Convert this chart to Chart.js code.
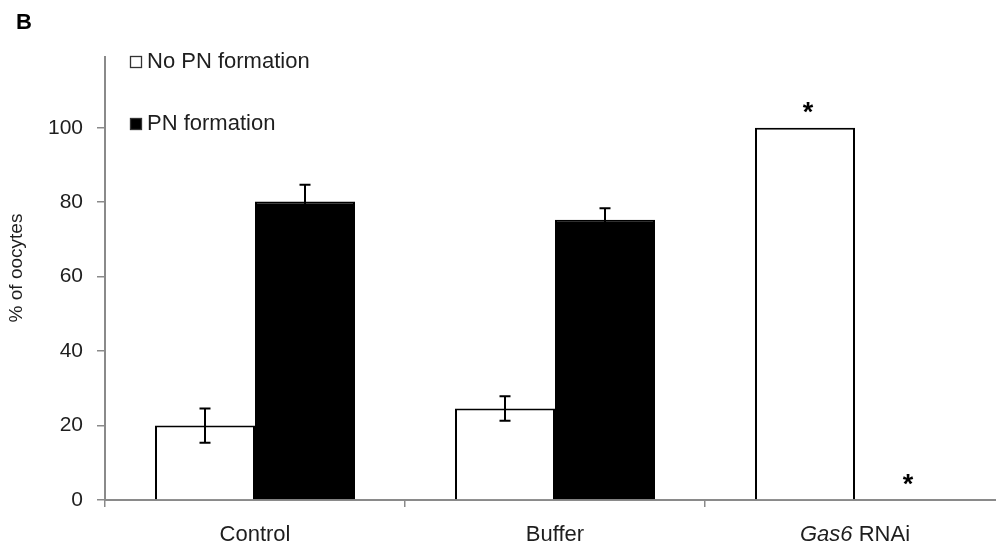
<!DOCTYPE html>
<html>
<head>
<meta charset="utf-8">
<script src="https://cdn.jsdelivr.net/npm/chart.js@4/dist/chart.umd.min.js"></script>
<style>
  html, body { margin: 0; padding: 0; background: #fff; overflow: hidden; }
  #wrap { position: absolute; left: 0; top: 0; width: 1010px; height: 544px; }
</style>
</head>
<body>
<div id="wrap"><canvas id="chart" width="1010" height="544"></canvas></div>
<script>
// Treatment groups along the x axis; words listed in italicWords are gene names set in italics
const categories = ['Control', 'Buffer', 'Gas6 RNAi'];
const italicWords = ['Gas6'];

// Percentage of oocytes per outcome, with standard errors
const seriesNames = ['No PN formation', 'PN formation'];
const noPN = [20.0, 24.6, 100.0];
const noPNErr = [4.6, 3.3, 0];
const withPN = [80.2, 75.3, 0];
const withPNErr = [4.5, 3.1, 0];

// Significance markers (*) per series and group
const noPNSig = [false, false, true];
const withPNSig = [false, false, true];

// Y axis range, step and title
const yMin = 0;
const yMax = 119;
const yStep = 20;
const yTitle = '% of oocytes';

const AXIS_GREY = '#8a8a8a';
const TEXT = '#1e1e1e';
const FONT = '"Liberation Sans", Arial, sans-serif';

const errorBars = [noPNErr, withPNErr];
const sigMarks = [noPNSig, withPNSig];

const decorations = {
  id: 'decorations',
  afterDatasetsDraw(chart) {
    const ctx = chart.ctx;
    const y = chart.scales.y;
    const area = chart.chartArea;
    ctx.save();

    // error bars
    ctx.strokeStyle = '#000';
    ctx.lineWidth = 2;
    chart.data.datasets.forEach((ds, i) => {
      const meta = chart.getDatasetMeta(i);
      ds.data.forEach((v, j) => {
        const e = errorBars[i][j];
        if (!e) return;
        const x = meta.data[j].x;
        const top = y.getPixelForValue(v + e);
        const bot = y.getPixelForValue(v - e);
        ctx.beginPath();
        ctx.moveTo(x, top); ctx.lineTo(x, bot);
        ctx.moveTo(x - 5.5, top); ctx.lineTo(x + 5.5, top);
        ctx.moveTo(x - 5.5, bot); ctx.lineTo(x + 5.5, bot);
        ctx.stroke();
      });
    });

    // significance asterisks
    ctx.fillStyle = '#000';
    ctx.font = 'bold 27px ' + FONT;
    ctx.textAlign = 'center';
    ctx.textBaseline = 'middle';
    chart.data.datasets.forEach((ds, i) => {
      const meta = chart.getDatasetMeta(i);
      ds.data.forEach((v, j) => {
        if (!sigMarks[i][j]) return;
        const x = meta.data[j].x + 3;
        ctx.fillText('*', x, y.getPixelForValue(v) - 14);
      });
    });

    // y axis title
    ctx.save();
    ctx.translate(17, 268);
    ctx.rotate(-Math.PI / 2);
    ctx.font = '19px ' + FONT;
    ctx.fillStyle = TEXT;
    ctx.textAlign = 'center';
    ctx.textBaseline = 'middle';
    ctx.fillText(yTitle, 0, 0);
    ctx.restore();

    // legend inside the plot, top left
    ctx.textAlign = 'left';
    ctx.textBaseline = 'alphabetic';
    ctx.font = '22px ' + FONT;
    const baselines = [68, 130];
    chart.data.datasets.forEach((ds, i) => {
      const bx = area.left + 25.5;
      const by = baselines[i] - 11.5;
      ctx.fillStyle = ds.backgroundColor;
      ctx.fillRect(bx, by, 11, 11);
      ctx.strokeStyle = '#333';
      ctx.lineWidth = 1.3;
      ctx.strokeRect(bx, by, 11, 11);
      ctx.fillStyle = TEXT;
      ctx.fillText(ds.label, area.left + 42, baselines[i]);
    });

    // category labels, gene names in italics
    const xs = chart.scales.x;
    ctx.fillStyle = TEXT;
    categories.forEach((label, j) => {
      const words = label.split(' ');
      const parts = words.map((w, k) => ({
        text: (k > 0 ? ' ' : '') + w,
        font: (italicWords.includes(w) ? 'italic ' : '') + '22px ' + FONT
      }));
      let total = 0;
      parts.forEach(p => { ctx.font = p.font; p.w = ctx.measureText(p.text).width; total += p.w; });
      let x = xs.getPixelForValue(j) - total / 2;
      parts.forEach(p => { ctx.font = p.font; ctx.fillText(p.text, x, 541); x += p.w; });
    });

    // panel letter
    ctx.font = 'bold 22px ' + FONT;
    ctx.fillStyle = '#000';
    ctx.fillText('B', 16, 29);

    ctx.restore();
  }
};

new Chart(document.getElementById('chart'), {
  type: 'bar',
  data: {
    labels: categories,
    datasets: [
      {
        label: seriesNames[0],
        data: noPN,
        backgroundColor: '#ffffff',
        borderColor: '#000000',
        borderWidth: 2
      },
      {
        label: seriesNames[1],
        data: withPN,
        backgroundColor: '#000000',
        borderColor: '#000000',
        borderWidth: 2
      }
    ]
  },
  options: {
    responsive: false,
    animation: false,
    devicePixelRatio: 1,
    categoryPercentage: 2 / 3,
    barPercentage: 1,
    layout: { padding: { top: 57, right: 5, left: 0, bottom: 0 } },
    plugins: {
      legend: { display: false },
      tooltip: { enabled: false }
    },
    scales: {
      x: {
        type: 'category',
        offset: true,
        grid: {
          display: true,
          offset: true,
          drawOnChartArea: false,
          drawTicks: true,
          tickLength: 7,
          color: AXIS_GREY,
          lineWidth: 1.5
        },
        border: { display: true, color: AXIS_GREY, width: 2 },
        ticks: { display: false },
        afterFit(scale) { scale.height = 44; }
      },
      y: {
        min: yMin,
        max: yMax,
        grid: {
          display: true,
          drawOnChartArea: false,
          drawTicks: true,
          tickLength: 8,
          color: AXIS_GREY,
          lineWidth: 1.5
        },
        border: { display: true, color: AXIS_GREY, width: 2 },
        ticks: {
          stepSize: yStep,
          includeBounds: false,
          padding: 14,
          color: TEXT,
          font: { family: FONT, size: 21 }
        },
        afterFit(scale) { scale.width = 105; }
      }
    }
  },
  plugins: [decorations]
});
</script>
</body>
</html>
